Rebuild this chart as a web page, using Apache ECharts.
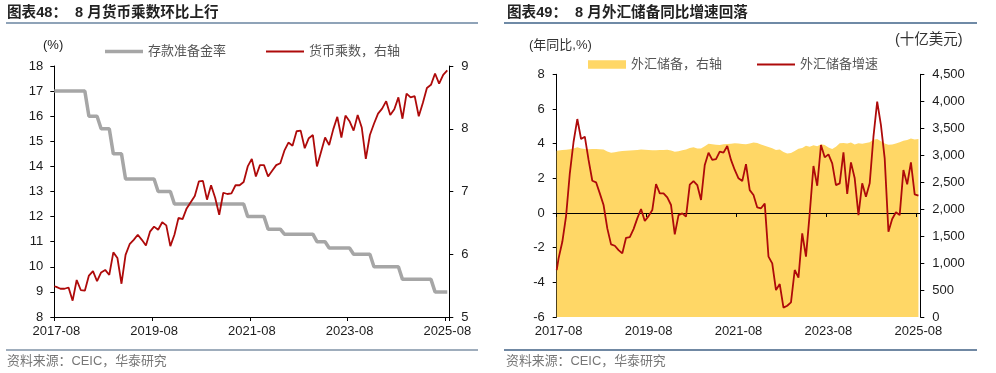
<!DOCTYPE html>
<html><head><meta charset="utf-8">
<style>html,body{margin:0;padding:0;background:#fff}#c{width:996px;height:373px}</style>
<script src="https://cdn.jsdelivr.net/npm/echarts@6/dist/echarts.min.js"></script>
</head><body><div id="c"></div>
<script>
const tickLabels = ['2017-08','2019-08','2021-08','2023-08','2025-08'];
const leftTicks = [8,18];
const multiplier = [5.49,5.48,5.45,5.45,5.47,5.26,5.59,5.43,5.42,5.66,5.73,5.57,5.71,5.75,5.67,6.03,5.94,5.53,5.99,6.16,6.23,6.31,6.23,6.14,6.36,6.44,6.39,6.51,6.46,6.13,6.31,6.58,6.56,6.73,6.83,6.93,7.16,7.17,6.87,7.10,6.90,6.63,6.98,6.96,6.97,7.10,7.10,7.15,7.40,
7.52,7.24,7.42,7.42,7.24,7.33,7.42,7.45,7.65,7.78,7.73,7.96,7.97,7.69,7.85,7.90,7.40,7.63,7.86,7.74,7.99,8.19,7.86,8.21,8.12,7.97,8.22,8.02,7.52,7.90,8.08,8.24,8.32,8.44,8.22,8.31,8.50,8.16,8.56,8.50,8.52,8.20,8.41,8.65,8.70,8.88,8.72,8.86,8.93];
const reserveRatio = [17,17,17,17,17,17,17,17,17,16,16,16,15.5,15.5,15.5,14.5,14.5,14.5,13.5,13.5,13.5,13.5,13.5,13.5,13.5,13.5,13,13,13,13,12.5,12.5,12.5,12.5,12.5,12.5,12.5,12.5,12.5,12.5,12.5,12.5,12.5,12.5,12.5,12.5,12.5,12.5,12,12,12,12,12,11.5,11.5,11.5,11.5,11.3,11.3,11.3,11.3,11.3,11.3,11.3,11.3,11,11,11,10.75,10.75,10.75,10.75,10.75,10.75,10.5,10.5,10.5,10.5,10.5,10,10,10,10,10,10,10,9.5,9.5,9.5,9.5,9.5,9.5,9.5,9.5,9,9,9,9];
const fxGrowth = [-3.29,-2.62,-1.66,-0.18,2.29,4.11,5.42,4.27,4.40,3.06,1.86,1.77,1.13,0.46,-0.89,-1.81,-1.89,-2.14,-2.33,-1.43,-1.39,-0.93,-0.31,0.23,-0.46,-0.18,0.17,1.67,1.13,1.13,0.90,0.46,-1.23,-0.12,-0.02,-0.21,1.63,1.84,1.61,0.75,2.77,3.48,3.06,3.11,3.54,3.48,3.86,3.06,2.48,2.00,
1.84,2.82,1.32,1.04,0.32,0.27,0.54,-2.52,-2.91,-4.45,-4.10,-5.46,-5.35,-5.16,-3.29,-3.73,-1.18,-2.52,-0.02,2.71,1.57,3.92,3.21,3.38,2.86,1.61,1.71,3.50,1.10,2.92,2.00,-0.12,1.71,0.94,1.71,4.40,6.42,5.07,3.15,-1.08,-0.35,0.04,-0.12,2.48,1.65,2.92,1.07,1.00];
const fxReserves = [3084,3090,3095,3100,3110,3125,3146,3125,3115,3109,3115,3115,3110,3105,3070,3047,3055,3068,3078,3082,3085,3090,3095,3105,3100,3095,3092,3090,3098,3095,3100,3085,3062,3075,3090,3105,3135,3146,3125,3125,3165,3214,3205,3195,3190,3205,3208,3210,3220,3215,3209,3205,3215,3235,3225,3200,3175,3150,3130,3095,3105,3060,3032,3040,3080,3120,3135,3175,3155,3185,3165,3205,3190,3145,3115,3155,3220,3225,3215,3235,3200,3220,3210,3225,3240,3285,3300,3260,3215,3195,3200,3215,3240,3270,3280,3310,3290,3300];

const FONT = '"Liberation Sans","Noto Sans CJK SC",sans-serif';
const INK = '#1c1c1c';
// 97 monthly bands, 2017-08 to 2025-08
const months = [];
for (let i = 0; i < 97; i++) {
  const t = 2017 * 12 + 7 + i;
  months.push(Math.floor(t / 12) + '-' + String(t % 12 + 1).padStart(2, '0'));
}
// the source line opens on the axis, then runs through the band centres
const onBands = arr => arr.map((v, i) => [i === 0 ? 0 : i - 0.5, v]);

const tick = { show: true, length: 4, inside: false, lineStyle: { color: '#000', width: 1 } };
const label = { color: INK, fontSize: 13, fontFamily: FONT };
const legendText = { color: '#555', fontSize: 13, fontFamily: FONT };

function dataX(gridIndex) {
  return { type: 'value', gridIndex, position: 'top', min: 0, max: 97, show: false, axisLine: { onZero: false } };
}
function bandX(gridIndex, extra) {
  return Object.assign({
    type: 'category', gridIndex, position: 'bottom', data: months, boundaryGap: true,
    axisLine: { show: true, onZero: false, lineStyle: { color: '#000', width: 1 } },
    axisTick: Object.assign({ interval: 23 }, tick),
    axisLabel: Object.assign({ interval: 23, margin: 8, showMinLabel: true, showMaxLabel: true }, label),
    splitLine: { show: false }
  }, extra || {});
}
function valY(gridIndex, position, min, max, interval, margin, fmt) {
  return {
    type: 'value', gridIndex, position, min, max, interval,
    axisLine: { show: true, onZero: false, lineStyle: { color: '#000', width: 1 } },
    axisTick: tick,
    axisLabel: Object.assign({ margin, formatter: fmt }, label),
    splitLine: { show: false }
  };
}
function txt(x, y, text, opts) {
  return { type: 'text', x, y, z: 10, style: Object.assign({ text, fill: '#333', font: '13px ' + FONT, verticalAlign: 'middle' }, opts || {}) };
}
function rule(x, y, w, h, fill) {
  return { type: 'rect', z: 10, shape: { x, y, width: w, height: h }, style: { fill } };
}
const titleFont = 'bold 14.6px ' + FONT;
const ICON_THICK = 'path://M0 0H38V3.5H0Z';
const ICON_THIN = 'path://M0 0H38V2H0Z';
const ICON_BLOCK = 'path://M0 0H38V8.5H0Z';

const chart = echarts.init(document.getElementById('c'), null, { renderer: 'canvas' });
chart.setOption({
  animation: false,
  backgroundColor: '#fff',
  grid: [
    { left: 54.3, top: 66, width: 395, height: 251, containLabel: false },
    { left: 556.7, top: 74.3, width: 363.6, height: 242.7, containLabel: false }
  ],
  xAxis: [
    dataX(0),
    bandX(0),
    dataX(1),
    bandX(1, { axisLine: { show: false, onZero: false }, axisTick: { show: false } }),
    bandX(1, { axisLine: { show: true, onZero: true, lineStyle: { color: '#000', width: 1 } }, axisLabel: { show: false }, z: 3 })
  ],
  yAxis: [
    valY(0, 'left', leftTicks[0], leftTicks[1], 1, 11),
    valY(0, 'right', 5, 9, 1, 12),
    valY(1, 'left', -6, 8, 2, 12),
    valY(1, 'right', 0, 4500, 500, 12, v => v >= 1000 ? Math.floor(v / 1000) + ',' + String(v % 1000).padStart(3, '0') : String(v))
  ],
  legend: [
    { left: 105, top: 45, itemWidth: 38, itemHeight: 14, itemGap: 40, padding: 0, textStyle: legendText,
      data: [{ name: '存款准备金率', icon: ICON_THICK }, { name: '货币乘数，右轴', icon: ICON_THIN }] },
    { left: 588, top: 58, itemWidth: 38, itemHeight: 14, itemGap: 35, padding: 0, textStyle: legendText,
      data: [{ name: '外汇储备，右轴', icon: ICON_BLOCK, itemStyle: { color: '#FFD766' } }, { name: '外汇储备增速', icon: ICON_THIN }] }
  ],
  series: [
    { name: '存款准备金率', type: 'line', xAxisIndex: 0, yAxisIndex: 0, symbol: 'none', data: onBands(reserveRatio),
      lineStyle: { color: '#A6A6A6', width: 3.5 }, itemStyle: { color: '#A6A6A6' }, z: 2 },
    { name: '货币乘数，右轴', type: 'line', xAxisIndex: 0, yAxisIndex: 1, symbol: 'none', data: onBands(multiplier),
      lineStyle: { color: '#AE0A0A', width: 1.8 }, itemStyle: { color: '#AE0A0A' }, z: 3 },
    { name: '外汇储备，右轴', type: 'line', xAxisIndex: 2, yAxisIndex: 3, symbol: 'none', data: onBands(fxReserves),
      lineStyle: { width: 0 }, itemStyle: { color: '#FFD766' }, areaStyle: { color: '#FFD766', opacity: 1 }, z: 1 },
    { name: '外汇储备增速', type: 'line', xAxisIndex: 2, yAxisIndex: 2, symbol: 'none', data: onBands(fxGrowth),
      lineStyle: { color: '#AE0A0A', width: 1.8 }, itemStyle: { color: '#AE0A0A' }, z: 4 }
  ],
  graphic: { elements: [
    txt(7, 13, '图表48：  8 月货币乘数环比上行', { font: titleFont, fill: '#222' }),
    txt(507, 13, '图表49：  8 月外汇储备同比增速回落', { font: titleFont, fill: '#222' }),
    rule(6, 22, 472, 2, '#8FA3B8'),
    rule(504, 22, 473, 2, '#6F8AA6'),
    rule(6, 349, 472, 2, '#9FADBC'),
    rule(504, 349, 473, 2, '#7088A3'),
    txt(43, 45, '(%)', { fill: INK }),
    txt(529, 45, '(年同比,%)', { fill: '#333' }),
    txt(895, 40, '(十亿美元)', { fill: '#333', font: '14.5px ' + FONT }),
    txt(7, 361, '资料来源：CEIC，华泰研究', { fill: '#777', font: '12.9px ' + FONT }),
    txt(506, 361, '资料来源：CEIC，华泰研究', { fill: '#777', font: '12.9px ' + FONT })
  ] }
});
</script></body></html>
